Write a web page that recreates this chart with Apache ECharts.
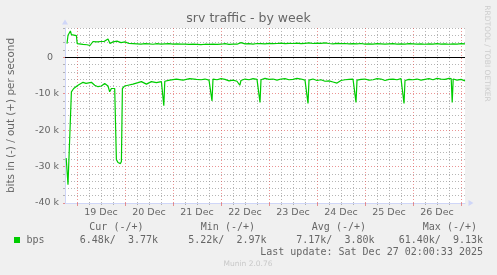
<!DOCTYPE html>
<html><head><meta charset="utf-8">
<script src="https://cdn.jsdelivr.net/npm/echarts@6/dist/echarts.min.js"></script>
<style>html,body{margin:0;padding:0;background:#f0f0f0}#c{width:497px;height:275px}</style>
</head><body><div id="c"></div><script>
// x values: hours since 18 Dec 18:00
const dayLabels = ['19 Dec','20 Dec','21 Dec','22 Dec','23 Dec','24 Dec','25 Dec','26 Dec'];
const labelHours = [18, 42, 66, 90, 114, 138, 162, 186];
const midnightHours = [6, 30, 54, 78, 102, 126, 150, 174, 198];

const outHours = [1, 1.5, 2.7, 3.2, 5.7, 6.1, 7, 9, 11, 12.5, 14, 16, 18, 19.5, 21.5, 22.5, 24, 26, 28, 30,
  32, 34, 36, 38, 40, 42, 44, 46, 48, 50, 52, 54, 56, 58, 60, 62, 64, 66, 68, 70, 72, 74, 76, 78, 80,
  82, 84, 86, 88, 90, 92, 94, 96, 98, 100, 102, 104, 106, 108, 110, 112, 114, 116, 118, 120, 122, 124,
  126, 128, 130, 132, 134, 136, 138, 140, 142, 144, 146, 148, 150, 152, 154, 156, 158, 160, 162, 164,
  166, 168, 170, 172, 174, 176, 178, 180, 182, 184, 186, 188, 190, 192, 194, 196, 198, 200];
const outValues = [3700, 6000, 7200, 6200, 5900, 3700, 3500, 3500, 3400, 3200, 4300, 4200, 4300, 4300, 5000, 3750, 4200, 4400, 4000, 4200,
  3750, 3700, 3650, 3600, 3700, 3650, 3550, 3700, 3600, 3650, 3700, 3600, 3650, 3600, 3550, 3500, 3550, 3500, 3450, 3550, 3500, 3600, 3500, 3550, 3700,
  3500, 3600, 3550, 4000, 3650, 3700, 3600, 3750, 3700, 3650, 3800, 3700, 3750, 3850, 3700, 3800, 3750, 3850, 3700, 3800, 3900, 3750,
  3850, 3800, 3900, 3750, 3650, 3800, 3700, 3750, 3650, 3700, 3650, 3750, 3600, 3650, 3600, 3700, 3650, 3600, 3650, 3700,
  3600, 3650, 3600, 3700, 3650, 3600, 3650, 3550, 3650, 3600, 3700, 3600, 3650, 3550, 3650, 3600, 3700, 3650];

const inHours = [0.6, 1.5, 3.2, 3.7, 4.35, 5.35, 6.5, 7.35, 9, 10.5, 11.5, 13.2, 14.85, 16.5, 18.2, 19.85, 21.5, 22.35, 23.2, 24,
  24.85, 25.7, 26.5, 27.7, 28.2, 28.7, 29.85, 31.5, 34, 36.5, 38.2, 40.7, 43.2, 45.7, 48.2, 48.9, 49.4, 49.9, 52.35, 55.7, 59, 62.35, 65.7,
  68, 70, 72, 73, 73.5, 74, 76, 78, 80, 82, 84, 86, 87.4, 88, 90, 92, 94, 96, 97, 97.5, 98, 100, 102, 104, 106, 108, 110, 112, 114,
  116, 118, 120, 121, 121.5, 122, 124, 126, 128, 130, 132, 134, 136, 138, 140, 142, 144, 145, 145.5, 146, 148, 150, 152, 154, 156,
  158, 160, 162, 164, 166, 168, 169, 169.5, 170, 172, 174, 176, 178, 180, 182, 184, 186, 188, 190, 192, 193.1, 193.6, 194.1, 196, 198, 200];
const inValues = [-27700, -35000, -9500, -9000, -8600, -8100, -7700, -7200, -6900, -7200, -7000, -6900, -7700, -8100, -7900, -7200, -7900, -9500, -8600, -8100,
  -8600, -28100, -28900, -29200, -28600, -8600, -7900, -7700, -7400, -7000, -6700, -7400, -6700, -7000, -6700, -6800, -13300, -6600, -6300, -6000, -6300, -5900, -6100,
  -6200, -6000, -6300, -6100, -12000, -6000, -6200, -5900, -6100, -6500, -6300, -6600, -7700, -6400, -6000, -6200, -5900, -6100, -6000, -12400, -6200, -5800, -6100, -6000, -6300, -6000, -5900, -6200, -6100,
  -5800, -6000, -6300, -6400, -12700, -6300, -6000, -6400, -6200, -6600, -6500, -6800, -7100, -6400, -6200, -6100, -6000, -6100, -12400, -6300, -6100, -6000, -6300, -6200, -5900,
  -6000, -6400, -6100, -6000, -6200, -5900, -6000, -12700, -6400, -6100, -6200, -6000, -6300, -6100, -5900, -6200, -5800, -6000, -6100, -5800, -5900, -12400, -6000, -6300, -6100, -6500];

const legendHeaders = ['Cur (-/+)', 'Min (-/+)', 'Avg (-/+)', 'Max (-/+)'];
const legendValues = ['6.48k/  3.77k', '5.22k/  2.97k', '7.17k/  3.80k', '61.40k/  9.13k'];
const seriesName = 'bps';
const lastUpdate = 'Last update: Sat Dec 27 02:00:33 2025';

// minor grid positions (every 6 h / every 2 k), skipping the major ones
const minorXTicks = [];
for (let h = 6; h < 200; h += 6) if (midnightHours.indexOf(h) < 0) minorXTicks.push(h);
const minorYTicks = [];
for (let v = -38000; v <= 8000; v += 2000) if (v % 10000 !== 0) minorYTicks.push(v);

const FONT = 'DejaVu Sans';
const MONO = 'DejaVu Sans Mono';
const GRIDC = 'rgba(143,143,143,0.65)';
const MGRIDC = 'rgba(222,79,79,0.6)';
const AXISC = '#CFD6F8';
const TXT = '#666666';

const chart = echarts.init(document.getElementById('c'), null, {renderer: 'canvas'});

function txt(text, x, y, font, fill, align, rot) {
  return {type: 'text', x: x, y: y, rotation: rot || 0, silent: true, z: 10,
    style: {text: text, font: font, fill: fill, align: align || 'left', verticalAlign: 'middle'}};
}
const headerRight = [143.5, 255, 366, 477];
const valueRight = [158, 266.5, 374.5, 483];
const graphics = [
  txt('srv traffic - by week', 248.5, 19, '12.5px ' + FONT, TXT, 'center'),
  txt('bits in (-) / out (+) per second', 11, 115.5, '10.4px ' + FONT, TXT, 'center', Math.PI / 2),
  txt('RRDTOOL / TOBI OETIKER', 487, 53.5, '7.5px ' + FONT, '#cccccc', 'center', -Math.PI / 2),
  {type: 'rect', shape: {x: 14, y: 237, width: 6, height: 6}, style: {fill: '#00cc00'}, silent: true},
  txt(seriesName, 26.5, 240, '10px ' + MONO, TXT, 'left'),
  txt(lastUpdate, 483, 252, '10px ' + MONO, TXT, 'right'),
  txt('Munin 2.0.76', 248, 264, '7.5px ' + FONT, '#c8c8c8', 'center')
];
legendHeaders.forEach((t, i) => graphics.push(txt(t, headerRight[i], 227.5, '10px ' + MONO, TXT, 'right')));
legendValues.forEach((t, i) => graphics.push(txt(t, valueRight[i], 240, '10px ' + MONO, TXT, 'right')));

const option = {
  animation: false,
  backgroundColor: '#f0f0f0',
  grid: {left: 65, top: 28, width: 400, height: 175, show: true, backgroundColor: '#ffffff', borderWidth: 0},
  xAxis: [
    {type: 'value', min: 0, max: 200, position: 'bottom', z: 1,
      axisLine: {show: true, onZero: false, lineStyle: {color: AXISC, width: 1}, symbol: ['none', 'triangle'], symbolSize: [6, 5], symbolOffset: [0, 6]},
      axisTick: {show: true, customValues: midnightHours, length: 3, lineStyle: {color: MGRIDC}},
      splitLine: {show: true, lineStyle: {color: MGRIDC, type: [1, 2], width: 1}},
      axisLabel: {customValues: labelHours, formatter: v => dayLabels[Math.round((v - 18) / 24)] || '', color: TXT, fontFamily: FONT, fontSize: 9.5, margin: 5}
    },
    {type: 'value', min: 0, max: 200, position: 'bottom', z: 0,
      axisLine: {show: false, onZero: false},
      axisTick: {show: true, customValues: minorXTicks, length: 2, lineStyle: {color: GRIDC}},
      axisLabel: {show: false},
      splitLine: {show: true, lineStyle: {color: GRIDC, type: [1, 2], width: 1}}
    }
  ],
  yAxis: [
    {type: 'value', min: -40000, max: 8000, interval: 10000, position: 'left', z: 1,
      axisLine: {show: true, onZero: false, lineStyle: {color: AXISC, width: 1}, symbol: ['none', 'triangle'], symbolSize: [6, 5], symbolOffset: [0, 6]},
      axisTick: {show: true, length: 2, lineStyle: {color: MGRIDC}},
      splitLine: {show: true, showMinLine: false, showMaxLine: false, lineStyle: {color: MGRIDC, type: [1, 2], width: 1}},
      axisLabel: {showMaxLabel: false, color: TXT, fontFamily: FONT, fontSize: 9.5, margin: 6,
        formatter: v => v === 0 ? '0\u00a0\u00a0' : (v / 1000) + ' k'}
    },
    {type: 'value', min: -40000, max: 8000, position: 'left', z: 0,
      axisLine: {show: false, onZero: false},
      axisTick: {show: true, customValues: minorYTicks, length: 2, lineStyle: {color: GRIDC}},
      axisLabel: {show: false},
      splitLine: {show: true, lineStyle: {color: GRIDC, type: [1, 2], width: 1}}
    }
  ],
  series: [
    {type: 'line', name: 'out', xAxisIndex: 0, yAxisIndex: 0, showSymbol: false, symbol: 'none', z: 3,
      data: outHours.map((h, i) => [h, outValues[i]]),
      lineStyle: {color: '#00cc00', width: 1.2},
      markLine: {silent: true, symbol: ['none', 'none'], label: {show: false},
        lineStyle: {color: '#000000', type: 'solid', width: 1}, data: [{yAxis: 0}]}
    },
    {type: 'line', name: 'in', xAxisIndex: 0, yAxisIndex: 0, showSymbol: false, symbol: 'none', z: 3,
      data: inHours.map((h, i) => [h, inValues[i]]),
      lineStyle: {color: '#00cc00', width: 1.2}
    }
  ],
  graphic: graphics
};
chart.setOption(option);
</script></body></html>
